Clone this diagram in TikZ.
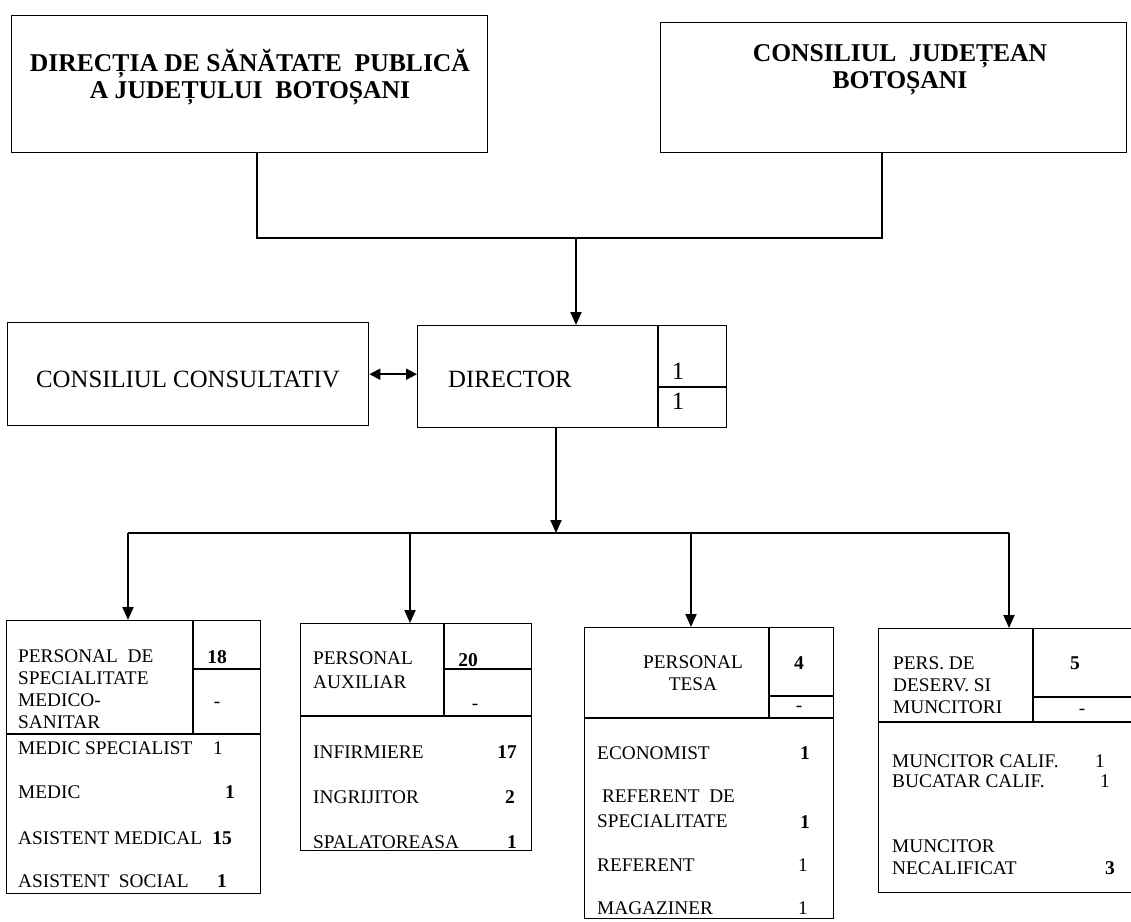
\documentclass[tikz,border=0pt]{standalone}
\usepackage{fontspec}
\setmainfont{Liberation Serif}
\usetikzlibrary{arrows.meta}
\def\busy{533}
\def\topbusy{238}
\tikzset{
    frame/.style={draw, line width=1.4pt, inner sep=0pt},
    rule/.style={line width=1.4pt},
    wire/.style={line width=2pt},
    arrow/.style={wire, -{Triangle[length=13pt,width=11pt]}},
    both/.style={wire, {Triangle[length=11pt,width=11pt]}-{Triangle[length=11pt,width=11pt]}},
    head/.style={font=\fontsize{25.6}{27}\selectfont\bfseries, align=center, inner sep=0pt},
    plain/.style={font=\fontsize{24.8}{26}\selectfont, inner sep=0pt},
    entry/.style={font=\fontsize{19.3}{22}\selectfont, anchor=west, align=left, inner sep=0pt},
    tally/.style={font=\fontsize{19.3}{22}\selectfont, inner sep=0pt},
    strong/.style={font=\fontsize{19.5}{22}\selectfont\bfseries},
}
\newcommand{\staffbox}[8]{
    % name, left, top, right, column, number rule, header rule, bottom
    \node[frame, anchor=north west, minimum width={#4-#2}, minimum height={#8-#3}] (#1) at (#2,#3) {};
    \draw[rule] (#2,#7) -- (#4,#7);
    \draw[rule] (#5,#3) -- (#5,#7);
    \draw[rule] (#5,#6) -- (#4,#6);
}
\newcommand{\entry}[7][]{
    \node[entry] (#2) at (#3,#4) {#5};
    \node[tally,#1] (#2n) at (#6,#4) {#7};
}
\begin{document}
\begin{tikzpicture}[x=1pt, y=-1pt]
    \useasboundingbox (0,0) rectangle (1131,921);
    \clip (0,0) rectangle (1131,921);
    % top level
    \node[frame, anchor=north west, minimum width=476, minimum height=137] (dsp) at (11,15) {};
    \node[head] (dspt) at (250,77) {DIRECȚIA DE SĂNĂTATE\ \ PUBLICĂ\\A JUDEȚULUI\ \ BOTOȘANI};
    \node[frame, anchor=north west, minimum width=466, minimum height=130] (cj) at (660,22) {};
    \node[head] (cjt) at (900,70) {CONSILIUL\ \ JUDEȚEAN\\BOTOȘANI};
    \coordinate (topbus) at (576,\topbusy);
    \draw[wire] ([xshift=7pt]dsp.south) |- (topbus) -| ([xshift=-12pt]cj.south);
    % director
    \node[frame, anchor=north west, minimum width=361, minimum height=103] (cc) at (7,322) {};
    \node[plain] (cct) at (188,379) {CONSILIUL CONSULTATIV};
    \node[frame, anchor=north west, minimum width=309, minimum height=102] (dir) at (417,325) {};
    \draw[rule] (658,325) -- (658,427);
    \draw[rule] (658,387) -- (726,387);
    \node[plain, anchor=west] (dirt) at (448,379) {DIRECTOR};
    \node[plain] (dirn1) at (678,371) {1};
    \node[plain] (dirn2) at (678,401) {1};
    \draw[arrow] (topbus) -- (topbus |- dir.north);
    \draw[both] (cc.east) -- (cc.east -| dir.west);
    % staff
    \coordinate (busmid) at (556,\busy);
    \draw[arrow] (dir.south -| busmid) -- (busmid);
    \foreach \n/\x in {1/128, 2/410, 3/691, 4/1009}
        \coordinate (j\n) at (\x,\busy);
    \draw[wire] (j1) -- (j4);
    \staffbox{b1}{6}{620}{260}{193}{669}{734}{893}
    \staffbox{b2}{300}{623}{531}{444}{669}{716}{850}
    \staffbox{b3}{584}{627}{833}{769}{696}{718}{918}
    \staffbox{b4}{878}{628}{1145}{1033}{697}{722}{892}
    \foreach \n in {1,...,4}
        \draw[arrow] (j\n) -- (j\n |- b\n.north);
    % medico-sanitar
    \node[entry] (b1h) at (18,689) {PERSONAL\ \ DE\\SPECIALITATE\\MEDICO-\\SANITAR};
    \node[tally,strong] (b1hn) at (217,657) {18};
    \node[tally] (b1hd) at (217,705) {-};
    \entry{b1a}{18}{748}{MEDIC SPECIALIST}{218}{1}
    \entry[strong]{b1b}{18}{792}{MEDIC}{230}{1}
    \entry[strong]{b1c}{18}{838}{ASISTENT MEDICAL}{222}{15}
    \entry[strong]{b1d}{18}{881}{ASISTENT\ \ SOCIAL}{222}{1}
    % auxiliar
    \node[entry] (b2h) at (313,670) {PERSONAL\\[2pt]AUXILIAR};
    \node[tally,strong] (b2hn) at (468,660) {20};
    \node[tally] (b2hd) at (475,707) {-};
    \entry[strong]{b2a}{313}{752}{INFIRMIERE}{507}{17}
    \entry[strong]{b2b}{313}{797}{INGRIJITOR}{510}{2}
    \entry[strong]{b2c}{313}{842}{SPALATOREASA}{512}{1}
    % tesa
    \node[entry, align=center, anchor=center] (b3h) at (693,673) {PERSONAL\\TESA};
    \node[tally,strong] (b3hn) at (799,663) {4};
    \node[tally] (b3hd) at (799,709) {-};
    \entry[strong]{b3a}{597}{753}{ECONOMIST}{805}{1}
    \node[entry] (b3b) at (597,809) {\ REFERENT\ \ DE\\[3pt]SPECIALITATE};
    \node[tally,strong] (b3bn) at (805,822) {1};
    \entry{b3c}{597}{865}{REFERENT}{803}{1}
    \entry{b3d}{597}{908}{MAGAZINER}{803}{1}
    % deservire
    \node[entry] (b4h) at (893,685) {PERS. DE\\DESERV. SI\\MUNCITORI};
    \node[tally,strong] (b4hn) at (1075,663) {5};
    \node[tally] (b4hd) at (1082,712) {-};
    \entry{b4a}{892}{761}{MUNCITOR CALIF.}{1100}{1}
    \entry{b4b}{892}{781}{BUCATAR CALIF.}{1105}{1}
    \node[entry] (b4c) at (892,857) {MUNCITOR\\NECALIFICAT};
    \node[tally,strong] (b4cn) at (1110,868) {3};
\end{tikzpicture}
\end{document}
